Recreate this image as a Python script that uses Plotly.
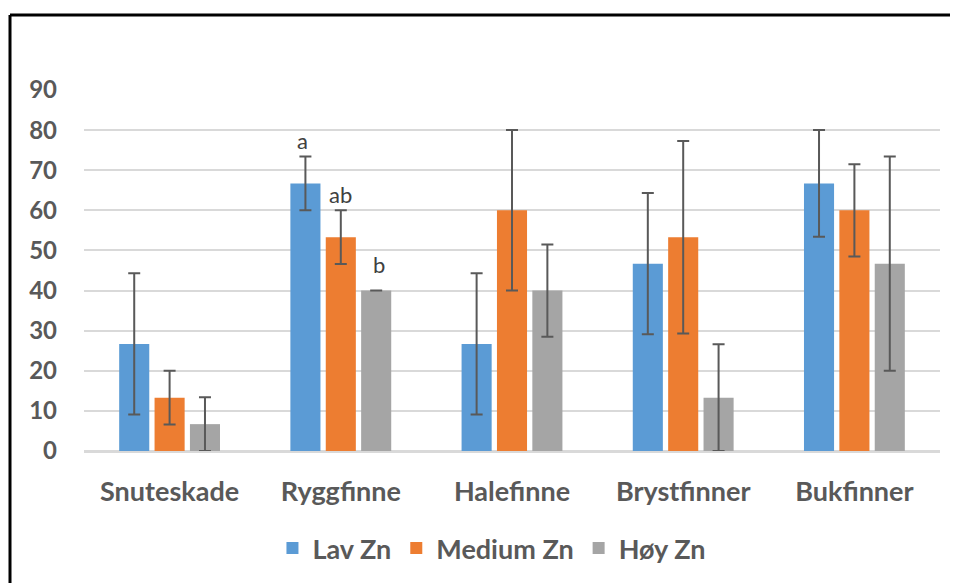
import plotly.graph_objects as go

categories = ["Snuteskade", "Ryggfinne", "Halefinne", "Brystfinner", "Bukfinner"]
series_names = ["Lav Zn", "Medium Zn", "Høy Zn"]
lav = [26.7, 66.7, 26.7, 46.7, 66.7]
lav_err = [17.6, 6.7, 17.6, 17.6, 13.3]
medium = [13.3, 53.3, 60.0, 53.3, 60.0]
medium_err = [6.7, 6.7, 20.0, 24.0, 11.5]
hoy = [6.7, 40.0, 40.0, 13.3, 46.7]
hoy_err = [6.7, 0.0, 11.5, 13.3, 26.7]
colors = ["#5b9bd5", "#ed7d31", "#a5a5a5"]
letters = ["a", "ab", "b"]
letter_y = [77.3, 64.0, 46.6]

FONT = "Lato, 'Open Sans', sans-serif"
TXT = "#595959"

# page body has an 8px margin: plot area placed at (76..932, 82..443) in figure coords
L, R, T, B = 76, 932, 82, 443
W, H = 958, 583
PW, PH = R - L, B - T

fig = go.Figure()
for name, vals, errs, col in zip(series_names, [lav, medium, hoy], [lav_err, medium_err, hoy_err], colors):
    fig.add_trace(go.Bar(
        x=categories, y=vals, name=name,
        marker=dict(color=col, line=dict(width=0)),
        error_y=dict(type="data", array=errs, visible=True, color="#595959", thickness=2, width=6),
    ))

for i, (t, yv) in enumerate(zip(letters, letter_y)):
    fig.add_annotation(x=categories[1], y=yv, text=t, showarrow=False, xshift=(i - 1) * 38,
                       font=dict(family=FONT, size=22, color="#404040"), yanchor="middle")

fx = (2 - L) / PW
fy = 1 + (T - 7) / PH
fig.add_shape(type="line", xref="paper", yref="paper", x0=fx, x1=1.1, y0=fy, y1=fy,
              line=dict(color="black", width=3))
fig.add_shape(type="line", xref="paper", yref="paper", x0=fx, x1=fx, y0=fy, y1=-0.6,
              line=dict(color="black", width=3))

fig.update_layout(
    width=W, height=H,
    margin=dict(l=L, r=W - R, t=T, b=H - B),
    paper_bgcolor="white", plot_bgcolor="white",
    barmode="group", bargap=0.38, bargroupgap=0.15,
    font=dict(family=FONT, color=TXT),
    showlegend=True,
    legend=dict(orientation="h", x=0.476, xanchor="center", y=-0.27, yanchor="middle",
                font=dict(family=FONT, size=27, color=TXT, weight="bold"),
                traceorder="normal", itemwidth=30),
    xaxis=dict(showgrid=False, showline=True, linecolor="#d9d9d9", linewidth=1.5,
               tickfont=dict(family=FONT, size=27, color=TXT, weight="bold"),
               ticks="", ticklabelstandoff=16, fixedrange=True),
    yaxis=dict(range=[0, 90], dtick=10, showgrid=True, gridcolor="#d9d9d9", gridwidth=1.5,
               zeroline=True, zerolinecolor="#d9d9d9", zerolinewidth=1.5,
               showline=False, ticks="", ticklabelstandoff=26,
               tickfont=dict(family=FONT, size=24, color=TXT, weight="bold")),
)

fig.write_html("out.html")
